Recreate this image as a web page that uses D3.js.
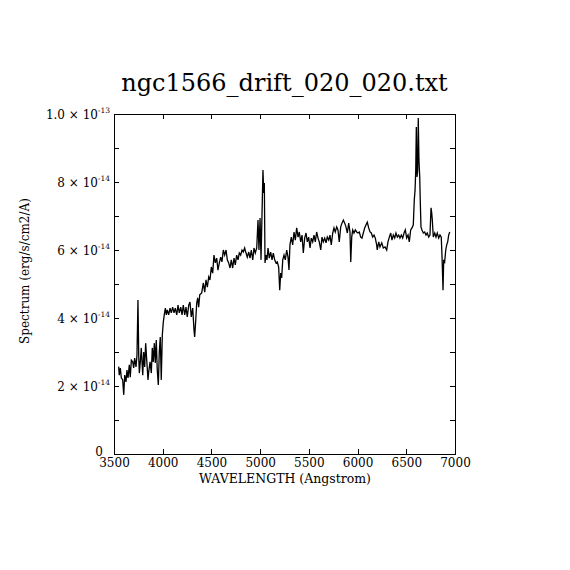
<!DOCTYPE html>
<html>
<head>
<meta charset="utf-8">
<script src="https://cdn.jsdelivr.net/npm/d3@7"></script>
<style>
  html, body { margin: 0; padding: 0; background: #fff; }
  svg { display: block; }
  text { font-family: "DejaVu Serif", serif; fill: #000; }
</style>
</head>
<body>
<svg id="chart" width="570" height="570"></svg>
<script>
// ---- data (wavelength in Angstrom, flux in units of 1e-14 erg/s/cm2/A) ----
const wavelength = [
  3548,3554,3565,3575,3589,3600,3610,3623,3633,3644,3657,3667,3678,3692,3702,3712,3726,3736,3746,3754,
  3760,3770,3780,3795,3805,3815,3825,3836,3849,3856,3870,3883,3893,3903,3914,3924,3934,3944,3955,3965,
  3975,3985,3996,4006,4016,4027,4037,4047,4061,4075,4088,4102,4116,4129,4144,4157,4170,4185,4198,4211,
  4226,4239,4252,4267,4280,4293,4308,4321,4328,4339,4349,4359,4369,4380,4400,4417,4431,4444,4458,4472,
  4485,4499,4513,4526,4540,4554,4567,4581,4595,4608,4622,4636,4650,4663,4677,4691,4704,4718,4732,4745,
  4759,4773,4786,4800,4814,4827,4841,4855,4868,4883,4896,4909,4924,4937,4950,4965,4978,4988,4999,5009,
  5019,5029,5037,5043,5050,5060,5070,5081,5094,5108,5122,5135,5149,5163,5176,5190,5201,5211,5221,5232,
  5245,5258,5273,5286,5296,5306,5320,5334,5348,5361,5375,5389,5402,5416,5430,5443,5457,5471,5484,5498,
  5512,5525,5539,5553,5566,5580,5594,5607,5622,5635,5648,5663,5676,5689,5704,5717,5730,5745,5758,5771,
  5786,5799,5812,5827,5840,5854,5868,5881,5895,5909,5922,5930,5940,5950,5963,5977,5991,6004,6018,6032,
  6045,6059,6073,6087,6100,6114,6128,6141,6155,6169,6182,6196,6202,6217,6230,6248,6264,6282,6299,6312,
  6326,6340,6353,6367,6381,6394,6408,6422,6435,6449,6463,6477,6490,6504,6518,6531,6545,6559,6572,6582,
  6590,6597,6603,6610,6617,6623,6630,6638,6644,6651,6661,6675,6689,6702,6715,6730,6743,6754,6761,6767,
  6777,6792,6805,6818,6833,6846,6859,6867,6877,6884,6894,6905,6915,6925,6935,6946
];
const flux = [
  2.57,2.32,2.53,2.24,2.18,1.74,2.32,2.12,2.47,2.24,2.62,2.26,2.76,2.71,2.53,2.82,2.56,2.91,4.53,2.85,
  2.38,2.71,3.12,2.32,3.00,2.56,3.26,2.76,2.18,2.41,2.71,2.38,3.12,2.71,3.26,2.68,3.35,2.47,2.03,3.00,
  3.44,2.18,3.50,3.88,4.09,4.29,4.09,4.24,4.09,4.29,4.15,4.32,4.15,4.29,4.09,4.38,4.15,4.32,4.09,4.38,
  4.09,4.32,4.03,4.38,4.47,4.03,4.29,3.65,3.44,3.94,4.44,4.59,4.32,4.68,4.74,5.03,4.76,5.12,4.91,5.21,
  5.12,5.50,5.32,5.85,5.62,5.76,5.41,5.62,5.79,5.65,6.00,5.85,6.00,5.71,5.62,5.47,5.71,5.47,5.76,5.56,
  5.85,5.71,5.91,5.85,6.00,5.94,6.06,5.91,5.79,5.94,5.76,6.00,5.71,6.06,5.91,6.06,6.88,6.00,6.94,5.71,
  7.03,8.35,7.68,7.97,5.62,5.85,5.71,6.06,5.76,5.94,5.71,5.91,5.71,5.62,5.65,5.50,4.82,5.32,5.18,5.71,
  5.85,5.71,6.00,5.79,5.41,6.15,6.38,6.15,6.53,6.29,6.65,6.38,6.53,6.24,6.44,5.91,6.35,6.50,6.24,6.38,
  6.06,6.35,6.24,6.44,6.24,6.53,6.35,6.24,6.00,6.38,6.24,6.35,6.21,6.38,6.29,6.44,6.15,6.50,6.65,6.53,
  6.68,6.59,6.24,6.68,6.79,6.88,6.79,6.68,6.50,6.79,6.53,5.65,6.38,6.59,6.50,6.59,6.53,6.50,6.53,6.38,
  6.35,6.50,6.65,6.74,6.82,6.65,6.53,6.50,6.38,6.44,6.35,6.15,6.00,6.24,6.09,6.21,6.06,6.09,6.00,6.24,
  6.38,6.50,6.29,6.44,6.35,6.50,6.38,6.44,6.35,6.44,6.35,6.50,6.59,6.35,6.44,6.24,6.59,6.65,6.74,7.47,
  7.76,8.35,9.62,8.15,8.35,9.88,8.65,8.15,7.38,6.68,6.59,6.50,6.53,6.44,6.50,6.38,6.44,7.24,7.09,6.88,
  6.38,6.50,6.38,6.50,6.35,6.44,6.38,5.79,4.82,5.71,5.65,6.00,6.15,6.24,6.44,6.53
];
const xTicks = [3500, 4000, 4500, 5000, 5500, 6000, 6500, 7000];
const yTicks = [0, 1, 2, 3, 4, 5, 6, 7, 8, 9, 10];          // units of 1e-14
const yLabels = {0: ["0", ""], 2: ["2", "-14"], 4: ["4", "-14"], 6: ["6", "-14"], 8: ["8", "-14"], 10: ["1.0", "-13"]};
const title = "ngc1566_drift_020_020.txt";
const xTitle = "WAVELENGTH (Angstrom)";
const yTitle = "Spectrum (erg/s/cm2/A)";

// ---- layout ----
const L = 114, R = 455, T = 114, B = 454;
const svg = d3.select("#chart");
svg.append("rect").attr("width", 570).attr("height", 570).attr("fill", "#fff");

const x = d3.scaleLinear().domain([3500, 7000]).range([L, R]);
const y = d3.scaleLinear().domain([0, 10]).range([B, T]);

// spectrum line
const pts = wavelength.map((w, i) => [w, flux[i]]);
svg.append("path")
  .datum(pts)
  .attr("fill", "none")
  .attr("stroke", "#000")
  .attr("stroke-width", 1.3)
  .attr("stroke-linejoin", "miter")
  .attr("d", d3.line().x(d => x(d[0])).y(d => y(d[1])));

function styleAxis(g) {
  g.selectAll("path, line").attr("stroke", "#000").attr("stroke-width", 1).attr("shape-rendering", "crispEdges");
}

// bottom axis
const gb = svg.append("g").attr("transform", `translate(0,${B})`)
  .call(d3.axisBottom(x).tickValues(xTicks).tickSize(-5).tickSizeOuter(0).tickFormat(d3.format("d")));
styleAxis(gb);
gb.selectAll("text").attr("y", 13).attr("dy", 0).attr("font-size", 12)
  .attr("font-family", "DejaVu Serif").attr("fill", "#000");

// top axis
const gt = svg.append("g").attr("transform", `translate(0,${T})`)
  .call(d3.axisTop(x).tickValues(xTicks).tickSize(-5).tickSizeOuter(0).tickFormat(""));
styleAxis(gt);

// left axis
const gl = svg.append("g").attr("transform", `translate(${L},0)`)
  .call(d3.axisLeft(y).tickValues(yTicks).tickSize(-5).tickSizeOuter(0).tickFormat(""));
styleAxis(gl);
gl.selectAll(".tick").each(function(d) {
  const lab = yLabels[d];
  if (!lab) return;
  const t = d3.select(this).select("text")
    .attr("x", d === 0 ? -11 : -4).attr("y", d === 0 ? 1 : 4.5).attr("dy", 0)
    .attr("text-anchor", "end").attr("font-size", 12)
    .attr("font-family", "DejaVu Serif").attr("fill", "#000");
  if (lab[1] === "") {
    t.text(lab[0]);
  } else {
    t.text(null);
    t.append("tspan").text(lab[0] + " \u00d7 10");
    t.append("tspan").attr("font-size", 7.5).attr("dy", -6).text(lab[1]);
  }
});

// right axis
const gr = svg.append("g").attr("transform", `translate(${R},0)`)
  .call(d3.axisRight(y).tickValues(yTicks).tickSize(-5).tickSizeOuter(0).tickFormat(""));
styleAxis(gr);

// titles
svg.append("text").attr("x", (L + R) / 2).attr("y", 91).attr("text-anchor", "middle")
  .attr("font-size", 24).text(title);
svg.append("text").attr("x", 285).attr("y", 483).attr("text-anchor", "middle")
  .attr("font-size", 12.5).text(xTitle);
svg.append("text").attr("transform", "translate(29,271) rotate(-90)").attr("text-anchor", "middle")
  .attr("font-size", 12).text(yTitle);
</script>
</body>
</html>
